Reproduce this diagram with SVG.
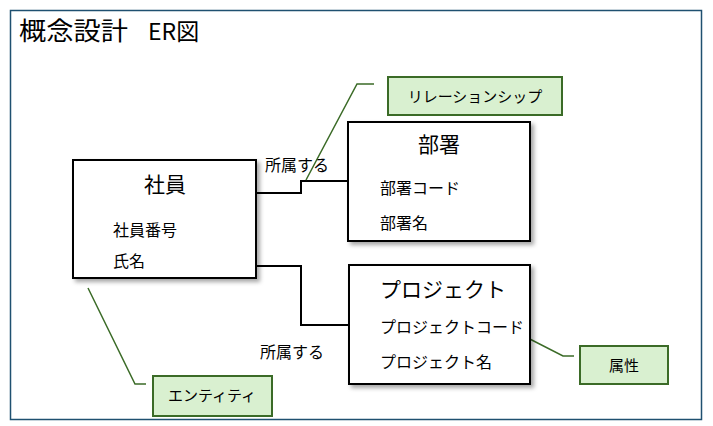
<svg xmlns="http://www.w3.org/2000/svg" width="713" height="426" viewBox="0 0 713 426">
<defs>
<filter id="sh" x="-10%" y="-10%" width="130%" height="130%"><feDropShadow dx="3" dy="3" stdDeviation="2" flood-color="#000" flood-opacity="0.35"/></filter>
</defs>
<style>
text{font-family:"Noto Sans CJK JP","Liberation Sans",sans-serif;fill:#000}
.ent{fill:#fff;stroke:#000;stroke-width:2;filter:url(#sh)}
.call{fill:#d9f0d0;stroke:#3b6b27;stroke-width:2}
.lead{fill:none;stroke:#3b6b27;stroke-width:1.5}
.con{fill:none;stroke:#000;stroke-width:2}
.t{font-size:21px}
.a{font-size:16px}
.c{font-size:15px}
</style>
<rect x="0" y="0" width="713" height="426" fill="#fff"/>
<rect x="10.5" y="10.5" width="691" height="409" fill="#fff" stroke="#1f5070" stroke-width="1.5"/>
<text x="19" y="40" style="font-size:25px" textLength="109" lengthAdjust="spacingAndGlyphs">概念設計</text>
<text x="148" y="40" style="font-size:23px">ER図</text>
<g id="connectors">
<polyline class="con" points="256,193 301,193 301,181 348,181"/>
<polyline class="con" points="256,266 301,266 301,325 349,325"/>
<text x="265" y="171" class="a">所属する</text>
<text x="260" y="358" class="a">所属する</text>
<polyline class="lead" points="306,180 357,84 374,84"/>
<polyline class="lead" points="88,288 135,384 146,384"/>
<polyline class="lead" points="520,334 563,356 574,356"/>
</g>
<g id="shain">
<rect class="ent" x="73" y="160" width="183" height="118"/>
<text x="165" y="192" class="t" text-anchor="middle">社員</text>
<text x="113" y="236" class="a">社員番号</text>
<text x="113" y="267" class="a">氏名</text>
</g>
<g id="busho">
<rect class="ent" x="348" y="122" width="182" height="119"/>
<text x="439" y="152" class="t" text-anchor="middle">部署</text>
<text x="380" y="194" class="a">部署コード</text>
<text x="380" y="229" class="a">部署名</text>
</g>
<g id="project">
<rect class="ent" x="349" y="265" width="181" height="119"/>
<text x="380" y="297" class="t">プロジェクト</text>
<text x="380" y="333" class="a">プロジェクトコード</text>
<text x="380" y="368" class="a">プロジェクト名</text>
</g>
<g id="relationship">
<rect class="call" x="388" y="77" width="174" height="38"/>
<text x="475" y="102" class="c" text-anchor="middle">リレーションシップ</text>
</g>
<g id="entity">
<rect class="call" x="153" y="376" width="119" height="40"/>
<text x="212" y="401" class="c" text-anchor="middle">エンティティ</text>
</g>
<g id="attribute">
<rect class="call" x="580" y="346" width="88" height="38"/>
<text x="624" y="371" class="c" text-anchor="middle">属性</text>
</g>
</svg>
